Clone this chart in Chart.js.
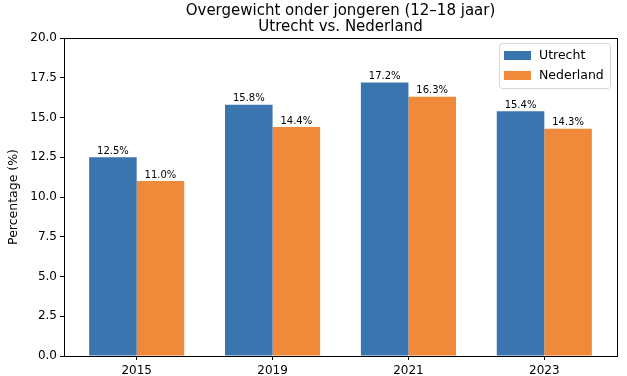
<!DOCTYPE html>
<html>
<head>
<meta charset="utf-8">
<script src="https://cdn.jsdelivr.net/npm/chart.js@4"></script>
<style>
    html, body { margin: 0; padding: 0; background: #ffffff; }
    #wrap { width: 627px; height: 376px; }
</style>
</head>
<body>
<div id="wrap"><canvas id="chart" width="627" height="376"></canvas></div>
<script>
// Données
const YEARS = ['2015', '2019', '2021', '2023'];
const UTRECHT = [12.5, 15.8, 17.2, 15.4];
const NEDERLAND = [11.0, 14.4, 16.3, 14.3];
const Y_TICKS = [0, 2.5, 5, 7.5, 10, 12.5, 15, 17.5, 20];
const TITLE_LINES = ['Overgewicht onder jongeren (12–18 jaar)', 'Utrecht vs. Nederland'];

const FONT = 'DejaVu Sans';
const BLUE = '#3a75b0';
const ORANGE = '#f08a3a';

/**
 * Titre, cadre, étiquettes et légende façon matplotlib
 */
const decorPlugin = {
    id: 'decor',
    afterDatasetsDraw(chart) {
        const ctx = chart.ctx;
        const area = chart.chartArea;
        ctx.save();

        // cadre complet
        ctx.strokeStyle = '#000000';
        ctx.lineWidth = 1;
        ctx.strokeRect(Math.round(area.left) + 0.5, Math.round(area.top) + 0.5,
            Math.round(area.right - area.left), Math.round(area.bottom - area.top));

        // valeurs au-dessus des barres
        ctx.fillStyle = '#000000';
        ctx.font = '10px "' + FONT + '"';
        ctx.textAlign = 'center';
        ctx.textBaseline = 'bottom';
        chart.data.datasets.forEach((ds, i) => {
            chart.getDatasetMeta(i).data.forEach((bar, j) => {
                ctx.fillText(ds.data[j].y.toFixed(1) + '%', bar.x, bar.y - 1);
            });
        });

        // titre centré sur la zone du graphique
        const cx = (area.left + area.right) / 2;
        ctx.font = '15px "' + FONT + '"';
        ctx.textBaseline = 'alphabetic';
        ctx.fillText(TITLE_LINES[0], cx, 15);
        ctx.fillText(TITLE_LINES[1], cx, 31);

        // légende en haut à droite
        const lx = 499, ly = 43, lw = 111, lh = 45;
        ctx.strokeStyle = '#d6d6d6';
        ctx.fillStyle = 'rgba(255,255,255,0.8)';
        ctx.beginPath();
        ctx.roundRect(lx + 0.5, ly + 0.5, lw, lh, 3);
        ctx.fill();
        ctx.stroke();
        ctx.font = '12.5px "' + FONT + '"';
        ctx.textAlign = 'left';
        ctx.textBaseline = 'middle';
        chart.data.datasets.forEach((ds, i) => {
            const y = ly + 12 + i * 20;
            ctx.fillStyle = ds.backgroundColor;
            ctx.fillRect(lx + 5, y - 4, 27, 9);
            ctx.fillStyle = '#000000';
            ctx.fillText(ds.label, lx + 40, y + 1);
        });
        ctx.restore();
    }
};

function toPoints(values) {
    return values.map((v, i) => ({ x: i, y: v }));
}

new Chart(document.getElementById('chart').getContext('2d'), {
    type: 'bar',
    data: {
        datasets: [
            { label: 'Utrecht', data: toPoints(UTRECHT), backgroundColor: BLUE, barPercentage: 1, categoryPercentage: 0.7 },
            { label: 'Nederland', data: toPoints(NEDERLAND), backgroundColor: ORANGE, barPercentage: 1, categoryPercentage: 0.7 },
        ]
    },
    options: {
        responsive: false,
        animation: false,
        events: [],
        layout: { padding: { left: 0, right: 10, top: 38, bottom: 0 } },
        plugins: {
            legend: { display: false },
            title: { display: false },
            tooltip: { enabled: false },
        },
        scales: {
            x: {
                type: 'linear',
                offset: false,
                min: -0.535,
                max: 3.535,
                afterBuildTicks: scale => { scale.ticks = YEARS.map((_, i) => ({ value: i })); },
                afterFit: scale => { scale.height = 20; },
                grid: { offset: false, drawOnChartArea: false, drawTicks: true, tickLength: 4, color: '#000000' },
                border: { color: '#000000' },
                ticks: {
                    color: '#000000',
                    padding: 4,
                    maxRotation: 0,
                    font: { family: FONT, size: 12 },
                    callback: v => YEARS[v],
                },
            },
            y: {
                min: 0,
                max: 20,
                afterBuildTicks: scale => { scale.ticks = Y_TICKS.map(v => ({ value: v })); },
                afterFit: scale => { scale.width = 64; },
                grid: { drawOnChartArea: false, drawTicks: true, tickLength: 4, color: '#000000' },
                border: { color: '#000000' },
                ticks: {
                    color: '#000000',
                    padding: 3,
                    font: { family: FONT, size: 12 },
                    callback: v => v.toFixed(1),
                },
                title: {
                    display: true,
                    text: 'Percentage (%)',
                    color: '#000000',
                    font: { family: FONT, size: 12.5 },
                    padding: { top: 6, bottom: 0 },
                },
            }
        }
    },
    plugins: [decorPlugin]
});
</script>
</body>
</html>
